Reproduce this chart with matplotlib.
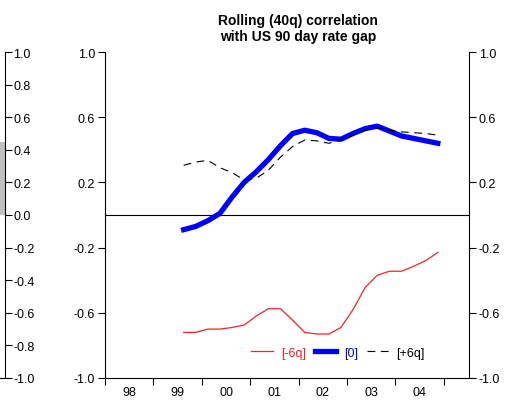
import numpy as np
import matplotlib
matplotlib.use('Agg')
import matplotlib.pyplot as plt

plt.rcParams['font.family'] = ['Liberation Sans', 'DejaVu Sans']
plt.rcParams['axes.unicode_minus'] = False

# quarterly dates, 1999Q3 .. 2004Q4 (mid-quarter)
dates = 1999.625 + 0.25 * np.arange(22)
lag_m6 = [-0.72, -0.72, -0.70, -0.70, -0.69, -0.675, -0.62, -0.575, -0.575, -0.645, -0.72,
          -0.73, -0.73, -0.69, -0.58, -0.445, -0.37, -0.345, -0.345, -0.315, -0.28, -0.23]
lag_0 = [-0.09, -0.07, -0.035, 0.01, 0.11, 0.20, 0.265, 0.34, 0.425, 0.50, 0.52,
         0.505, 0.47, 0.465, 0.50, 0.53, 0.545, 0.515, 0.485, 0.47, 0.455, 0.44]
lag_p6 = [0.305, 0.325, 0.335, 0.29, 0.26, 0.215, 0.225, 0.275, 0.355, 0.42, 0.46,
          0.455, 0.44, 0.46, 0.49, 0.52, 0.535, 0.52, 0.51, 0.505, 0.50, 0.49]
year_labels = ['98', '99', '00', '01', '02', '03', '04']
yticks = [-1.0, -0.6, -0.2, 0.2, 0.6, 1.0]

# fragment of the neighbouring chart on the left edge
nb_ticks = [-1.0, -0.8, -0.6, -0.4, -0.2, 0.0, 0.2, 0.4, 0.6, 0.8, 1.0]
nb_bar = [0.45]

fig = plt.figure(figsize=(5.19, 4.02), dpi=100)

# main chart
ax = fig.add_axes([105/519, 23/402, 364/519, 326/402])
ax.plot(dates, lag_m6, color='#ff2020', lw=0.9, label='[-6q]', zorder=3)
ax.plot(dates, lag_0, color='#0000ff', lw=3.8, label='[0]', zorder=4)
ax.plot(dates, lag_p6, color='black', lw=0.8, ls=(0, (7, 5)), label='[+6q]', zorder=5)
ax.axhline(0, color='black', lw=0.8, zorder=2)

ax.set_xlim(1998.0, 2005.52)
ax.set_ylim(-1.0, 1.0)
ax.spines['top'].set_visible(False)
for s in ['left', 'right', 'bottom']:
    ax.spines[s].set_linewidth(0.8)

ax.set_yticks(yticks)
ax.set_yticklabels(['%.1f' % v for v in yticks])
ax.tick_params(axis='y', which='both', direction='out', length=5, width=0.8,
               labelsize=9, right=True, labelright=True, pad=2)

years = np.arange(1998, 2006)
ax.set_xticks(years)
ax.set_xticklabels([])
ax.set_xticks(np.arange(1998.5, 2005.0, 1.0), minor=True)
ax.set_xticklabels(year_labels, minor=True)
ax.tick_params(axis='x', which='major', direction='out', length=5, width=0.8)
ax.tick_params(axis='x', which='minor', length=0, labelsize=9, pad=6)

ax.set_title('Rolling (40q) correlation\nwith US 90 day rate gap', x=0.53,
             fontsize=10, fontweight='bold', pad=9, linespacing=1.1)

leg = ax.legend(loc='center', bbox_to_anchor=(0.64, 0.078), ncol=3, frameon=False,
                fontsize=9, handlelength=1.75, handletextpad=0.6, columnspacing=0.7)
for txt, c in zip(leg.get_texts(), ['#ff2020', '#0000ff', 'black']):
    txt.set_color(c)

# neighbouring chart fragment
axl = fig.add_axes([0, 23/402, 5/519, 326/402])
axl.bar([0.5], nb_bar, width=0.8, color='#c0c0c0')
axl.set_xlim(0, 1)
axl.set_ylim(-1.0, 1.0)
for s in ['top', 'left']:
    axl.spines[s].set_visible(False)
axl.spines['right'].set_linewidth(0.8)
axl.spines['bottom'].set_linewidth(0.8)
axl.set_xticks([])
axl.yaxis.tick_right()
axl.set_yticks(nb_ticks)
axl.set_yticklabels(['%.1f' % v for v in nb_ticks])
axl.tick_params(axis='y', direction='out', length=5, width=0.8, labelsize=9, pad=1)
axl.patch.set_visible(False)

fig.savefig('out.png', dpi=100)
